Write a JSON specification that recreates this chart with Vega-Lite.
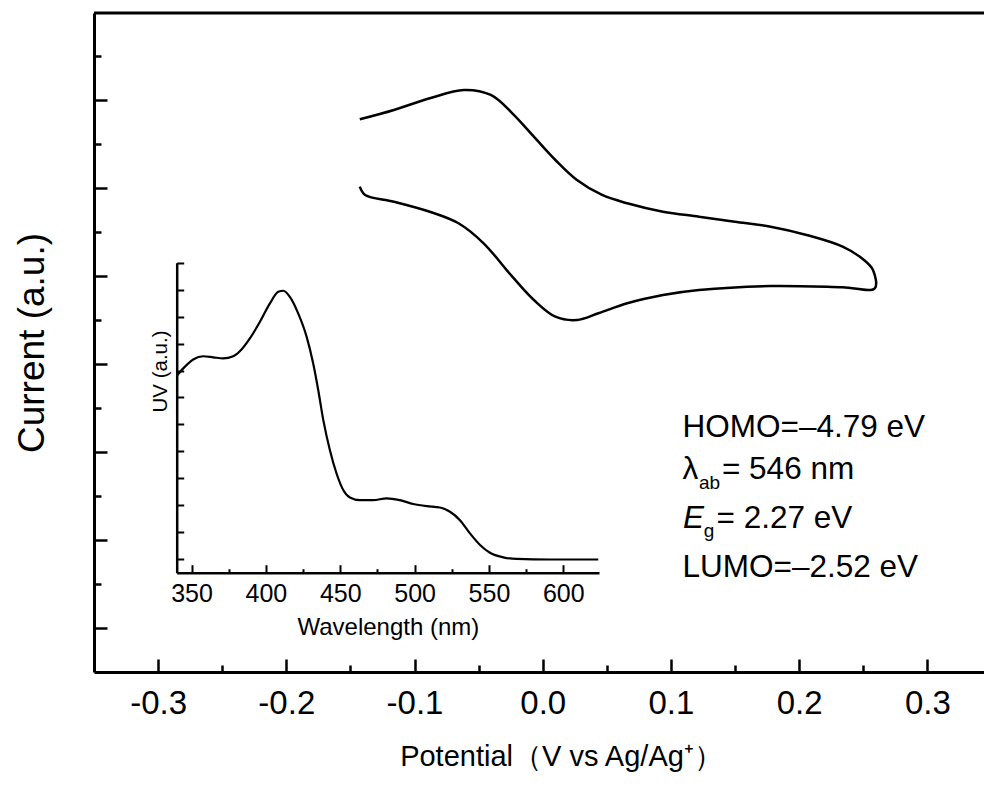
{
  "$schema": "https://vega.github.io/schema/vega-lite/v6.json",
  "width": 890,
  "height": 659,
  "autosize": "none",
  "padding": {"left": 94, "top": 13, "right": 0, "bottom": 115},
  "background": "white",
  "config": {
    "view": {"stroke": null},
    "font": "Liberation Sans",
    "axis": {"grid": false, "domainColor": "black", "tickColor": "black", "labelColor": "black", "titleColor": "black", "labelFont": "Liberation Sans", "titleFont": "Liberation Sans", "titleFontWeight": "normal", "labelFlush": false, "labelOverlap": false}
  },
  "datasets": {
    "cv": [
      {"i": 0, "E": -0.1427, "I": 12.561}, {"i": 1, "E": -0.1161, "I": 12.773}, {"i": 2, "E": -0.0881, "I": 13.039},
      {"i": 3, "E": -0.0615, "I": 13.227}, {"i": 4, "E": -0.0405, "I": 13.114}, {"i": 5, "E": -0.0237, "I": 12.698},
      {"i": 6, "E": -0.0069, "I": 12.166}, {"i": 7, "E": 0.0099, "I": 11.636}, {"i": 8, "E": 0.0267, "I": 11.182},
      {"i": 9, "E": 0.0463, "I": 10.841}, {"i": 10, "E": 0.0659, "I": 10.652}, {"i": 11, "E": 0.0938, "I": 10.461},
      {"i": 12, "E": 0.1219, "I": 10.348}, {"i": 13, "E": 0.1498, "I": 10.234}, {"i": 14, "E": 0.1778, "I": 10.12},
      {"i": 15, "E": 0.2058, "I": 9.932}, {"i": 16, "E": 0.2339, "I": 9.666}, {"i": 17, "E": 0.2506, "I": 9.364},
      {"i": 18, "E": 0.2576, "I": 9.136}, {"i": 19, "E": 0.259, "I": 8.72}, {"i": 20, "E": 0.2339, "I": 8.743},
      {"i": 21, "E": 0.1778, "I": 8.773}, {"i": 22, "E": 0.1219, "I": 8.682}, {"i": 23, "E": 0.0938, "I": 8.568},
      {"i": 24, "E": 0.0659, "I": 8.38}, {"i": 25, "E": 0.0434, "I": 8.152}, {"i": 26, "E": 0.0267, "I": 8.0},
      {"i": 27, "E": 0.0099, "I": 8.075}, {"i": 28, "E": -0.0069, "I": 8.455}, {"i": 29, "E": -0.0237, "I": 8.984},
      {"i": 30, "E": -0.0461, "I": 9.743}, {"i": 31, "E": -0.0657, "I": 10.198}, {"i": 32, "E": -0.0881, "I": 10.461},
      {"i": 33, "E": -0.1161, "I": 10.689}, {"i": 34, "E": -0.1385, "I": 10.841}, {"i": 35, "E": -0.1427, "I": 11.03}
    ],
    "uv": [
      {"wl": 340, "uv": 7.3}, {"wl": 344.4, "uv": 7.58}, {"wl": 351.1, "uv": 7.91}, {"wl": 357.8, "uv": 8.03},
      {"wl": 364.6, "uv": 7.99}, {"wl": 371.3, "uv": 7.95}, {"wl": 378.0, "uv": 8.03}, {"wl": 383.6, "uv": 8.28},
      {"wl": 389.2, "uv": 8.69}, {"wl": 396.0, "uv": 9.31}, {"wl": 402.7, "uv": 9.99}, {"wl": 408.3, "uv": 10.42},
      {"wl": 411.7, "uv": 10.46}, {"wl": 416.1, "uv": 10.23}, {"wl": 421.7, "uv": 9.62}, {"wl": 427.4, "uv": 8.75},
      {"wl": 431.8, "uv": 7.76}, {"wl": 435.2, "uv": 6.77}, {"wl": 438.6, "uv": 5.66}, {"wl": 443.0, "uv": 4.55},
      {"wl": 447.5, "uv": 3.68}, {"wl": 452.0, "uv": 3.07}, {"wl": 456.5, "uv": 2.79}, {"wl": 463.2, "uv": 2.69},
      {"wl": 472.2, "uv": 2.69}, {"wl": 481.2, "uv": 2.76}, {"wl": 490.1, "uv": 2.69}, {"wl": 499.1, "uv": 2.55},
      {"wl": 508.1, "uv": 2.47}, {"wl": 517.0, "uv": 2.42}, {"wl": 523.8, "uv": 2.26}, {"wl": 530.5, "uv": 1.95},
      {"wl": 537.2, "uv": 1.46}, {"wl": 544.0, "uv": 1.03}, {"wl": 550.7, "uv": 0.74}, {"wl": 559.6, "uv": 0.57},
      {"wl": 568.6, "uv": 0.51}, {"wl": 591.0, "uv": 0.49}, {"wl": 623.5, "uv": 0.49}
    ],
    "notes": [
      {"x": 0.1091, "y": 5.348, "text": "HOMO=–4.79 eV"},
      {"x": 0.1091, "y": 4.38, "text": "λ"},
      {"x": 0.1398, "y": 4.38, "text": "= 546 nm"},
      {"x": 0.1356, "y": 3.266, "text": "= 2.27 eV"},
      {"x": 0.1091, "y": 2.166, "text": "LUMO=–2.52 eV"}
    ],
    "subs": [
      {"x": 0.1219, "y": 4.152, "text": "ab"},
      {"x": 0.1256, "y": 3.061, "text": "g"}
    ],
    "ital": [
      {"x": 0.1095, "y": 3.266, "text": "E"}
    ],
    "frame": [{"top": 14.977}]
  },
  "layer": [
    {
      "layer": [
        {
          "data": {"name": "cv"},
          "mark": {"type": "line", "color": "black", "strokeWidth": 2.5, "interpolate": "catmull-rom", "strokeJoin": "round"},
          "encoding": {
            "x": {
              "field": "E", "type": "quantitative",
              "scale": {"domain": [-0.35, 0.3442], "nice": false, "zero": false},
              "axis": {
                "orient": "bottom",
                "values": [-0.3, -0.25, -0.2, -0.15, -0.1, -0.05, 0, 0.05, 0.1, 0.15, 0.2, 0.25, 0.3],
                "labelExpr": "abs(datum.value*10 - round(datum.value*10)) < 0.01 ? replace(format(datum.value, '.1f'), '\u2212', '-') : ''",
                "tickSize": {"condition": {"test": "abs(datum.value*10 - round(datum.value*10)) < 0.01", "value": -13}, "value": -7},
                "tickWidth": 2.5,
                "domainWidth": 3,
                "labelFontSize": 33,
                "labelPadding": 28,
                "title": "Potential（V vs Ag/Ag⁺）",
                "titleFontSize": 29,
                "titlePadding": 16,
                "titleX": 467
              }
            },
            "y": {
              "field": "I", "type": "quantitative",
              "scale": {"domain": [0, 14.977], "nice": false, "zero": false},
              "axis": {
                "orient": "left",
                "values": [1, 2, 3, 4, 5, 6, 7, 8, 9, 10, 11, 12, 13, 14],
                "labels": false,
                "tickSize": {"condition": {"test": "datum.value % 2 == 1", "value": -13}, "value": -7},
                "tickWidth": 2.5,
                "domainWidth": 3,
                "title": "Current (a.u.)",
                "titleFontSize": 37,
                "titlePadding": 41
              }
            },
            "order": {"field": "i", "type": "quantitative"}
          }
        },
        {
          "data": {"name": "frame"},
          "mark": {"type": "rule", "color": "black", "strokeWidth": 3},
          "encoding": {"y": {"field": "top", "type": "quantitative"}}
        },
        {
          "data": {"name": "notes"},
          "mark": {"type": "text", "align": "left", "baseline": "alphabetic", "fontSize": 31.5, "font": "Liberation Sans", "color": "black"},
          "encoding": {"x": {"field": "x", "type": "quantitative"}, "y": {"field": "y", "type": "quantitative"}, "text": {"field": "text"}}
        },
        {
          "data": {"name": "subs"},
          "mark": {"type": "text", "align": "left", "baseline": "alphabetic", "fontSize": 19, "font": "Liberation Sans", "color": "black"},
          "encoding": {"x": {"field": "x", "type": "quantitative"}, "y": {"field": "y", "type": "quantitative"}, "text": {"field": "text"}}
        },
        {
          "data": {"name": "ital"},
          "mark": {"type": "text", "align": "left", "baseline": "alphabetic", "fontSize": 31.5, "fontStyle": "italic", "font": "Liberation Sans", "color": "black"},
          "encoding": {"x": {"field": "x", "type": "quantitative"}, "y": {"field": "y", "type": "quantitative"}, "text": {"field": "text"}}
        }
      ]
    },
    {
      "data": {"name": "uv"},
      "mark": {"type": "line", "color": "black", "strokeWidth": 2.2, "interpolate": "monotone"},
      "encoding": {
        "x": {
          "field": "wl", "type": "quantitative",
          "scale": {"domain": [340, 624], "range": [82.7, 505], "nice": false, "zero": false},
          "axis": {
            "orient": "bottom",
            "offset": -99.3,
            "values": [350, 375, 400, 425, 450, 475, 500, 525, 550, 575, 600],
            "labelExpr": "datum.value % 50 == 0 ? datum.label : ''",
            "tickSize": {"condition": {"test": "datum.value % 50 == 0", "value": -8}, "value": -4},
            "tickWidth": 2,
            "domainWidth": 2.5,
            "labelFontSize": 25,
            "labelPadding": 17,
            "title": "Wavelength (nm)",
            "titleFontSize": 24,
            "titlePadding": 5
          }
        },
        "y": {
          "field": "uv", "type": "quantitative",
          "scale": {"domain": [0, 11.5], "range": [559.7, 249.7], "nice": false, "zero": false},
          "axis": {
            "orient": "left",
            "offset": -82.7,
            "values": [0.5, 1.5, 2.5, 3.5, 4.5, 5.5, 6.5, 7.5, 8.5, 9.5, 10.5, 11.5],
            "labels": false,
            "tickSize": -7,
            "tickWidth": 2,
            "domainWidth": 2.5,
            "title": "UV (a.u.)",
            "titleFontSize": 20.5,
            "titlePadding": 5,
            "titleY": 358
          }
        }
      }
    }
  ],
  "resolve": {"scale": {"x": "independent", "y": "independent"}, "axis": {"x": "independent", "y": "independent"}}
}
